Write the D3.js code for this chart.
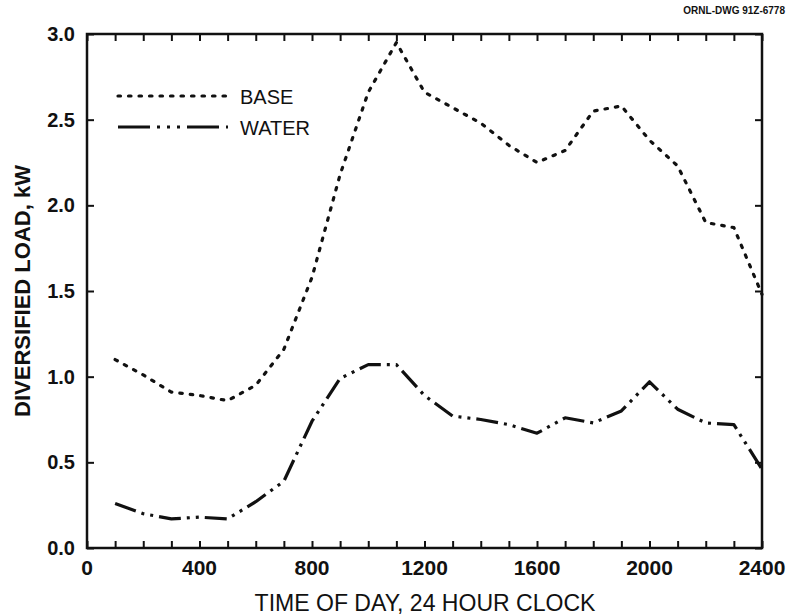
<!DOCTYPE html>
<html>
<head>
<meta charset="utf-8">
<script src="https://cdn.jsdelivr.net/npm/d3@7"></script>
<style>
  body { margin: 0; background: #fff; }
  text { font-family: "Liberation Sans", Arial, sans-serif; fill: #111; }
</style>
</head>
<body>
<svg id="chart" width="789" height="616"></svg>
<script>
const hours = [100, 200, 300, 400, 500, 600, 700, 800, 900, 1000, 1100, 1200,
  1300, 1400, 1500, 1600, 1700, 1800, 1900, 2000, 2100, 2200, 2300, 2400];
const baseLoad = [1.10, 1.01, 0.91, 0.89, 0.86, 0.95, 1.16, 1.58, 2.18, 2.66, 2.95, 2.66,
  2.57, 2.48, 2.35, 2.25, 2.32, 2.55, 2.58, 2.38, 2.23, 1.90, 1.87, 1.48];
const waterLoad = [0.26, 0.20, 0.17, 0.18, 0.17, 0.27, 0.39, 0.74, 0.99, 1.07, 1.07, 0.89,
  0.77, 0.75, 0.72, 0.67, 0.76, 0.73, 0.80, 0.97, 0.81, 0.73, 0.72, 0.46];
const xTickLabels = [0, 400, 800, 1200, 1600, 2000, 2400];
const yTickLabels = [0, 0.5, 1.0, 1.5, 2.0, 2.5, 3.0];
const legendItems = ["BASE", "WATER"];

const svg = d3.select("#chart");
const plot = { left: 87, right: 762, top: 34, bottom: 548 };

const x = d3.scaleLinear().domain([0, 2400]).range([plot.left, plot.right]);
const y = d3.scaleLinear().domain([0, 3]).range([plot.bottom, plot.top]);

// frame
svg.append("rect")
  .attr("x", plot.left).attr("y", plot.top)
  .attr("width", plot.right - plot.left).attr("height", plot.bottom - plot.top)
  .attr("fill", "none").attr("stroke", "#111").attr("stroke-width", 2.5);

// inward ticks on all four sides
const minorX = d3.range(0, 2401, 100);
const tick = 7;
const noDomain = (g) => g.select(".domain").remove();
svg.append("g").attr("transform", `translate(0,${plot.bottom})`)
  .call(d3.axisBottom(x).tickValues(minorX).tickSize(-tick).tickFormat(""))
  .call(noDomain);
svg.append("g").attr("transform", `translate(0,${plot.top})`)
  .call(d3.axisTop(x).tickValues(minorX).tickSize(-tick).tickFormat(""))
  .call(noDomain);
svg.append("g").attr("transform", `translate(${plot.left},0)`)
  .call(d3.axisLeft(y).tickValues(yTickLabels).tickSize(-tick).tickFormat(""))
  .call(noDomain);
svg.append("g").attr("transform", `translate(${plot.right},0)`)
  .call(d3.axisRight(y).tickValues(yTickLabels).tickSize(-tick).tickFormat(""))
  .call(noDomain);
svg.selectAll(".tick line").attr("stroke", "#111").attr("stroke-width", 2);

// tick labels
svg.append("g").selectAll("text")
  .data(xTickLabels).join("text")
  .attr("x", (d) => x(d)).attr("y", plot.bottom + 27)
  .attr("text-anchor", "middle")
  .attr("font-size", 21).attr("font-weight", "bold")
  .text((d) => d);
svg.append("g").selectAll("text")
  .data(yTickLabels).join("text")
  .attr("x", plot.left - 12).attr("y", (d) => y(d) + 7)
  .attr("text-anchor", "end")
  .attr("font-size", 20).attr("font-weight", "bold")
  .text((d) => d.toFixed(1));

// axis titles
const midX = 425;
svg.append("text")
  .attr("x", midX).attr("y", 611)
  .attr("text-anchor", "middle").attr("font-size", 24)
  .attr("transform", `translate(${midX},0) scale(0.96,1) translate(${-midX},0)`)
  .text("TIME OF DAY, 24 HOUR CLOCK");
svg.append("text")
  .attr("transform", `translate(30,${(plot.top + plot.bottom) / 2}) rotate(-90)`)
  .attr("text-anchor", "middle").attr("font-size", 22).attr("font-weight", "bold")
  .text("DIVERSIFIED LOAD, kW");
svg.append("text")
  .attr("x", 785).attr("y", 14)
  .attr("text-anchor", "end").attr("font-size", 10).attr("font-weight", "bold")
  .text("ORNL-DWG 91Z-6778");

// series
const styles = [
  { values: baseLoad, dash: "2.5,8", cap: "round" },
  { values: waterLoad, dash: "22,6,3,6,3,6", cap: "butt" },
];
const line = (values) => d3.line()
  .x((d, i) => x(hours[i]))
  .y((d) => y(d))(values);

styles.forEach((s) => {
  svg.append("path")
    .attr("d", line(s.values))
    .attr("fill", "none").attr("stroke", "#111")
    .attr("stroke-width", 3.2)
    .attr("stroke-linejoin", "round")
    .attr("stroke-dasharray", s.dash)
    .attr("stroke-linecap", s.cap);
});

// legend
const legend = svg.append("g");
legendItems.forEach((name, i) => {
  const ly = 96 + i * 31;
  legend.append("line")
    .attr("x1", 118).attr("x2", 228).attr("y1", ly).attr("y2", ly)
    .attr("stroke", "#111").attr("stroke-width", 3.2)
    .attr("stroke-dasharray", i === 0 ? "2.5,8" : "32,7,3,7,3,7,3,7")
    .attr("stroke-linecap", i === 0 ? "round" : "butt");
  legend.append("text")
    .attr("x", 240).attr("y", ly + 8)
    .attr("font-size", 20)
    .text(name);
});
</script>
</body>
</html>
